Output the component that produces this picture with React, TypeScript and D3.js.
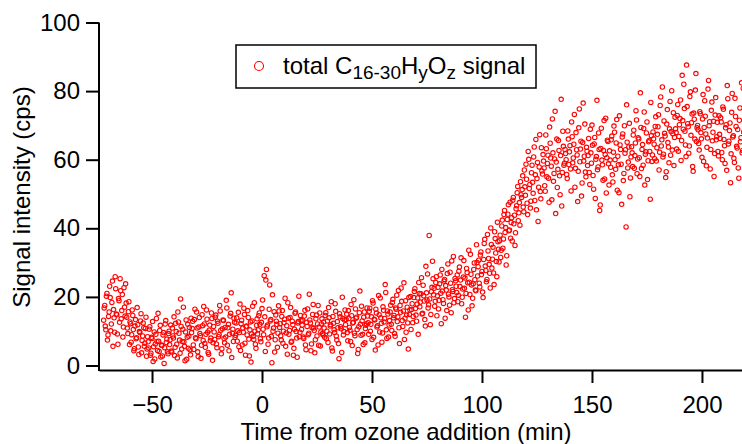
import {useEffect, useRef} from 'react';
import * as d3 from 'd3';

// minutes from ozone addition, first set of scans
const timeMinA = [
	-72,-71.5,-71,-70.5,-70,-69.5,-69,-68.5,-68,-67.5,-67,-66.5,-66,-65.5,-65,-64.5,-64,-63.5,-63,-62.5,
	-62,-61.5,-61,-60.5,-60,-59.5,-59,-58.5,-58,-57.5,-57,-56.5,-56,-55.5,-55,-54.5,-54,-53.5,-53,-52.5,
	-52,-51.5,-51,-50.5,-50,-49.5,-49,-48.5,-48,-47.5,-47,-46.5,-46,-45.5,-45,-44.5,-44,-43.5,-43,-42.5,
	-42,-41.5,-41,-40.5,-40,-39.5,-39,-38.5,-38,-37.5,-37,-36.5,-36,-35.5,-35,-34.5,-34,-33.5,-33,-32.5,
	-32,-31.5,-31,-30.5,-30,-29.5,-29,-28.5,-28,-27.5,-27,-26.5,-26,-25.5,-25,-24.5,-24,-23.5,-23,-22.5,
	-22,-21.5,-21,-20.5,-20,-19.5,-19,-18.5,-18,-17.5,-17,-16.5,-16,-15.5,-15,-14.5,-14,-13.5,-13,-12.5,
	-12,-11.5,-11,-10.5,-10,-9.5,-9,-8.5,-8,-7.5,-7,-6.5,-6,-5.5,-5,-4.5,-4,-3.5,-3,-2.5,
	-2,-1.5,-1,-0.5,0,0.5,1,1.5,2,2.5,3,3.5,4,4.5,5,5.5,6,6.5,7,7.5,
	8,8.5,9,9.5,10,10.5,11,11.5,12,12.5,13,13.5,14,14.5,15,15.5,16,16.5,17,17.5,
	18,18.5,19,19.5,20,20.5,21,21.5,22,22.5,23,23.5,24,24.5,25,25.5,26,26.5,27,27.5,
	28,28.5,29,29.5,30,30.5,31,31.5,32,32.5,33,33.5,34,34.5,35,35.5,36,36.5,37,37.5,
	38,38.5,39,39.5,40,40.5,41,41.5,42,42.5,43,43.5,44,44.5,45,45.5,46,46.5,47,47.5,
	48,48.5,49,49.5,50,50.5,51,51.5,52,52.5,53,53.5,54,54.5,55,55.5,56,56.5,57,57.5,
	58,58.5,59,59.5,60,60.5,61,61.5,62,62.5,63,63.5,64,64.5,65,65.5,66,66.5,67,67.5,
	68,68.5,69,69.5,70,70.5,71,71.5,72,72.5,73,73.5,74,74.5,75,75.5,76,76.5,77,77.5,
	78,78.5,79,79.5,80,80.5,81,81.5,82,82.5,83,83.5,84,84.5,85,85.5,86,86.5,87,87.5,
	88,88.5,89,89.5,90,90.5,91,91.5,92,92.5,93,93.5,94,94.5,95,95.5,96,96.5,97,97.5,
	98,98.5,99,99.5,100,100.5,101,101.5,102,102.5,103,103.5,104,104.5,105,105.5,106,106.5,107,107.5,
	108,108.5,109,109.5,110,110.5,111,111.5,112,112.5,113,113.5,114,114.5,115,115.5,116,116.5,117,117.5,
	118,118.5,119,119.5,120,120.5,121,121.5,122,122.5,123,123.5,124,124.5,125,125.5,126,126.5,127,127.5,
	128,128.5,129,129.5,130,130.5,131,131.5,132,132.5,133,133.5,134,134.5,135,135.5,136,136.5,137,137.5,
	138,138.5,139,139.5,140,140.5,141,141.5,142,142.5,143,143.5,144,144.5,145,145.5,146,146.5,147,147.5,
	148,148.5,149,149.5,150,150.5,151,151.5,152,152.5,153,153.5,154,154.5,155,155.5,156,156.5,157,157.5,
	158,158.5,159,159.5,160,160.5,161,161.5,162,162.5,163,163.5,164,164.5,165,165.5,166,166.5,167,167.5,
	168,168.5,169,169.5,170,170.5,171,171.5,172,172.5,173,173.5,174,174.5,175,175.5,176,176.5,177,177.5,
	178,178.5,179,179.5,180,180.5,181,181.5,182,182.5,183,183.5,184,184.5,185,185.5,186,186.5,187,187.5,
	188,188.5,189,189.5,190,190.5,191,191.5,192,192.5,193,193.5,194,194.5,195,195.5,196,196.5,197,197.5,
	198,198.5,199,199.5,200,200.5,201,201.5,202,202.5,203,203.5,204,204.5,205,205.5,206,206.5,207,207.5,
	208,208.5,209,209.5,210,210.5,211,211.5,212,212.5,213,213.5,214,214.5,215,215.5,216,216.5,217,217.5,218,218.5,219,219.5,220
];

// total C16-30HyOz signal (cps), first set of scans
const signalCpsA = [
	13.2,17.5,10.4,21.0,8.9,15.6,19.8,12.1,24.6,16.3,9.7,22.4,14.8,6.2,18.9,25.3,13.6,20.7,11.2,17.0,
	23.8,14.1,9.3,18.6,12.7,6.8,16.2,10.5,4.9,13.4,8.1,11.9,3.2,9.6,15.1,7.3,12.4,5.6,10.8,2.7,
	8.4,5.1,11.3,3.6,7.9,1.2,9.8,6.3,13.7,4.4,7.1,10.2,2.5,5.8,8.9,0.6,12.1,6.7,4.0,9.3,
	6.1,11.8,3.9,8.6,14.2,5.3,9.9,2.2,12.7,7.4,19.4,4.8,10.6,6.9,1.4,13.3,8.2,5.0,11.1,3.1,
	9.6,12.9,4.7,16.4,7.8,10.9,2.6,14.0,8.7,5.9,11.6,17.2,6.4,9.1,13.5,3.8,10.3,7.2,15.3,1.5,
	11.4,7.6,14.7,5.2,12.3,9.0,15.9,3.4,10.7,13.1,6.6,8.3,16.8,11.0,4.3,14.4,21.2,9.4,7.0,12.6,
	8.8,13.9,10.1,5.5,17.9,12.2,6.0,9.7,14.9,3.0,11.5,16.0,7.7,10.4,1.0,13.0,8.5,18.3,6.2,11.7,
	9.2,14.5,12.0,6.9,16.6,10.6,26.2,4.1,28.0,11.8,8.0,23.5,13.4,0.8,10.0,15.7,7.5,12.9,5.3,17.4,
	11.1,8.7,14.3,6.5,12.5,19.6,9.5,3.3,13.8,10.2,16.9,7.1,11.9,5.0,15.2,9.9,2.4,12.8,8.4,14.6,
	10.5,13.2,7.9,16.1,4.6,11.4,9.0,20.8,12.4,6.3,14.9,10.9,3.7,13.6,8.6,17.5,11.2,5.7,12.1,9.3,
	12.7,8.2,15.4,10.0,6.7,13.9,11.5,18.6,4.2,12.3,9.6,15.8,7.4,11.0,2.0,14.2,10.7,19.9,8.9,13.3,
	11.9,15.0,7.2,13.7,10.3,17.8,5.8,12.6,9.4,16.5,14.1,3.5,11.3,21.7,8.8,13.0,6.1,15.6,10.8,12.2,
	14.4,9.1,16.7,12.0,7.6,18.2,13.5,4.5,15.3,11.6,20.4,9.8,13.9,6.8,17.1,12.7,23.6,10.4,15.9,8.3,
	13.1,17.6,10.2,19.3,14.6,8.5,16.4,12.8,21.9,6.4,15.5,18.7,11.4,24.1,13.8,9.7,17.0,4.8,14.9,20.1,
	16.3,12.5,19.8,22.4,14.7,17.9,9.1,21.0,18.5,25.6,15.2,20.3,13.4,28.9,19.1,16.8,37.9,11.9,21.5,30.4,
	20.6,17.3,24.2,14.5,22.8,19.0,26.4,12.2,21.7,18.1,25.1,23.3,16.0,29.6,20.0,27.2,15.4,22.1,31.8,19.5,
	24.7,21.3,18.6,27.5,23.0,31.4,19.9,25.8,22.5,14.1,28.3,24.1,33.6,20.7,26.6,17.4,23.8,29.9,22.0,35.2,
	26.1,30.7,22.9,33.1,27.4,19.8,35.6,29.0,24.4,38.2,31.2,26.9,40.1,28.4,34.5,23.6,37.0,30.3,41.8,33.9,
	36.4,31.5,40.7,34.2,44.0,38.8,29.3,42.6,46.9,39.5,37.1,43.1,48.2,41.3,35.0,45.7,50.4,42.2,47.5,53.6,
	49.0,55.3,44.8,52.1,58.7,47.3,62.4,51.6,45.9,56.2,53.4,60.8,48.1,65.9,54.5,42.0,57.9,50.7,63.5,55.8,
	59.6,52.4,67.2,55.0,61.3,47.6,64.8,58.1,71.9,53.7,60.2,44.3,66.0,57.2,62.7,49.8,77.6,56.3,63.9,59.0,
	61.8,55.7,68.4,58.6,64.1,50.9,66.7,60.5,73.2,57.5,62.9,47.8,69.3,59.4,65.4,53.2,76.5,61.0,56.4,63.6,
	58.3,66.2,52.8,62.0,70.1,55.4,64.6,48.7,60.9,57.1,67.8,45.2,63.3,59.9,54.0,71.4,61.5,50.3,65.7,58.8,
	62.6,57.8,66.9,53.5,69.8,60.0,64.9,51.1,58.5,72.8,63.0,47.0,67.5,56.0,61.9,40.4,65.1,59.3,70.6,54.7,
	63.8,58.0,68.6,61.2,74.3,55.9,66.4,60.6,79.5,57.4,64.4,69.1,52.6,62.3,71.0,59.7,65.6,48.5,67.0,61.4,
	66.1,60.3,72.5,63.5,69.6,57.0,75.8,64.0,81.2,61.6,67.7,54.8,70.4,65.0,59.1,77.0,68.2,62.8,73.7,66.5,
	69.0,63.1,76.1,66.8,72.0,59.8,84.6,68.9,74.9,64.3,87.6,70.5,61.9,78.4,67.1,73.3,56.6,71.8,80.3,65.3,
	70.0,64.7,74.0,67.9,60.7,79.0,69.4,72.7,58.2,66.3,83.1,71.1,63.0,76.8,68.0,55.1,73.0,65.8,70.9,61.1,
	67.4,72.2,62.1,75.4,65.9,58.9,70.2,81.6,64.6,68.5,53.3,73.8,66.6,60.4,77.9,69.7,63.4,57.6,71.5,65.2,82.4,62.7,68.1,56.2,64.0
];

// minutes from ozone addition, second set of scans (in between)
const timeMinB = [
	-71.75,-71.25,-70.75,-70.25,-69.75,-69.25,-68.75,-68.25,-67.75,-67.25,-66.75,-66.25,-65.75,-65.25,-64.75,-64.25,-63.75,-63.25,-62.75,-62.25,
	-61.75,-61.25,-60.75,-60.25,-59.75,-59.25,-58.75,-58.25,-57.75,-57.25,-56.75,-56.25,-55.75,-55.25,-54.75,-54.25,-53.75,-53.25,-52.75,-52.25,
	-51.75,-51.25,-50.75,-50.25,-49.75,-49.25,-48.75,-48.25,-47.75,-47.25,-46.75,-46.25,-45.75,-45.25,-44.75,-44.25,-43.75,-43.25,-42.75,-42.25,
	-41.75,-41.25,-40.75,-40.25,-39.75,-39.25,-38.75,-38.25,-37.75,-37.25,-36.75,-36.25,-35.75,-35.25,-34.75,-34.25,-33.75,-33.25,-32.75,-32.25,
	-31.75,-31.25,-30.75,-30.25,-29.75,-29.25,-28.75,-28.25,-27.75,-27.25,-26.75,-26.25,-25.75,-25.25,-24.75,-24.25,-23.75,-23.25,-22.75,-22.25,
	-21.75,-21.25,-20.75,-20.25,-19.75,-19.25,-18.75,-18.25,-17.75,-17.25,-16.75,-16.25,-15.75,-15.25,-14.75,-14.25,-13.75,-13.25,-12.75,-12.25,
	-11.75,-11.25,-10.75,-10.25,-9.75,-9.25,-8.75,-8.25,-7.75,-7.25,-6.75,-6.25,-5.75,-5.25,-4.75,-4.25,-3.75,-3.25,-2.75,-2.25,
	-1.75,-1.25,-0.75,-0.25,0.25,0.75,1.25,1.75,2.25,2.75,3.25,3.75,4.25,4.75,5.25,5.75,6.25,6.75,7.25,7.75,
	8.25,8.75,9.25,9.75,10.25,10.75,11.25,11.75,12.25,12.75,13.25,13.75,14.25,14.75,15.25,15.75,16.25,16.75,17.25,17.75,
	18.25,18.75,19.25,19.75,20.25,20.75,21.25,21.75,22.25,22.75,23.25,23.75,24.25,24.75,25.25,25.75,26.25,26.75,27.25,27.75,
	28.25,28.75,29.25,29.75,30.25,30.75,31.25,31.75,32.25,32.75,33.25,33.75,34.25,34.75,35.25,35.75,36.25,36.75,37.25,37.75,
	38.25,38.75,39.25,39.75,40.25,40.75,41.25,41.75,42.25,42.75,43.25,43.75,44.25,44.75,45.25,45.75,46.25,46.75,47.25,47.75,
	48.25,48.75,49.25,49.75,50.25,50.75,51.25,51.75,52.25,52.75,53.25,53.75,54.25,54.75,55.25,55.75,56.25,56.75,57.25,57.75,
	58.25,58.75,59.25,59.75,60.25,60.75,61.25,61.75,62.25,62.75,63.25,63.75,64.25,64.75,65.25,65.75,66.25,66.75,67.25,67.75,
	68.25,68.75,69.25,69.75,70.25,70.75,71.25,71.75,72.25,72.75,73.25,73.75,74.25,74.75,75.25,75.75,76.25,76.75,77.25,77.75,
	78.25,78.75,79.25,79.75,80.25,80.75,81.25,81.75,82.25,82.75,83.25,83.75,84.25,84.75,85.25,85.75,86.25,86.75,87.25,87.75,
	88.25,88.75,89.25,89.75,90.25,90.75,91.25,91.75,92.25,92.75,93.25,93.75,94.25,94.75,95.25,95.75,96.25,96.75,97.25,97.75,
	98.25,98.75,99.25,99.75,100.25,100.75,101.25,101.75,102.25,102.75,103.25,103.75,104.25,104.75,105.25,105.75,106.25,106.75,107.25,107.75,
	108.25,108.75,109.25,109.75,110.25,110.75,111.25,111.75,112.25,112.75,113.25,113.75,114.25,114.75,115.25,115.75,116.25,116.75,117.25,117.75,
	118.25,118.75,119.25,119.75,120.25,120.75,121.25,121.75,122.25,122.75,123.25,123.75,124.25,124.75,125.25,125.75,126.25,126.75,127.25,127.75,
	128.25,128.75,129.25,129.75,130.25,130.75,131.25,131.75,132.25,132.75,133.25,133.75,134.25,134.75,135.25,135.75,136.25,136.75,137.25,137.75,
	138.25,138.75,139.25,139.75,140.25,140.75,141.25,141.75,142.25,142.75,143.25,143.75,144.25,144.75,145.25,145.75,146.25,146.75,147.25,147.75,
	148.25,148.75,149.25,149.75,150.25,150.75,151.25,151.75,152.25,152.75,153.25,153.75,154.25,154.75,155.25,155.75,156.25,156.75,157.25,157.75,
	158.25,158.75,159.25,159.75,160.25,160.75,161.25,161.75,162.25,162.75,163.25,163.75,164.25,164.75,165.25,165.75,166.25,166.75,167.25,167.75,
	168.25,168.75,169.25,169.75,170.25,170.75,171.25,171.75,172.25,172.75,173.25,173.75,174.25,174.75,175.25,175.75,176.25,176.75,177.25,177.75,
	178.25,178.75,179.25,179.75,180.25,180.75,181.25,181.75,182.25,182.75,183.25,183.75,184.25,184.75,185.25,185.75,186.25,186.75,187.25,187.75,
	188.25,188.75,189.25,189.75,190.25,190.75,191.25,191.75,192.25,192.75,193.25,193.75,194.25,194.75,195.25,195.75,196.25,196.75,197.25,197.75,
	198.25,198.75,199.25,199.75,200.25,200.75,201.25,201.75,202.25,202.75,203.25,203.75,204.25,204.75,205.25,205.75,206.25,206.75,207.25,207.75,
	208.25,208.75,209.25,209.75,210.25,210.75,211.25,211.75,212.25,212.75,213.25,213.75,214.25,214.75,215.25,215.75,216.25,216.75,217.25,217.75,218.25,218.75,219.25,219.75
];

// total C16-30HyOz signal (cps), second set of scans
const signalCpsB = [
	16.8,11.5,20.2,7.4,14.3,23.1,10.1,18.4,5.6,13.9,25.9,15.0,9.2,19.5,12.6,21.8,16.0,8.3,22.7,14.4,
	18.2,10.9,15.7,6.1,12.2,9.0,14.6,4.3,11.5,7.8,16.9,5.4,9.9,13.0,3.7,8.6,11.0,6.5,14.1,4.8,
	6.9,10.6,3.0,8.2,12.8,5.5,1.9,9.1,7.0,15.2,4.1,11.7,6.0,2.8,9.6,5.2,13.1,7.7,3.4,10.0,
	7.5,4.2,10.9,8.0,2.9,12.3,6.2,15.6,9.4,3.6,11.4,7.0,17.0,5.6,9.8,1.8,12.0,8.5,4.6,13.8,
	10.8,6.0,13.4,8.1,15.6,4.0,11.2,9.3,2.1,14.8,7.3,12.1,5.3,16.2,9.7,3.3,11.8,8.0,13.7,6.6,
	9.8,14.1,6.3,12.9,8.4,17.5,10.3,4.9,13.3,7.9,11.1,19.0,5.9,12.0,9.1,15.2,2.3,10.6,13.8,8.2,
	12.4,7.1,15.5,9.6,4.4,13.2,10.9,16.7,6.5,11.3,8.9,14.0,2.8,12.7,9.2,17.3,7.6,10.0,5.0,13.6,
	10.4,15.3,7.8,12.6,19.1,9.0,14.2,24.9,11.3,6.2,16.4,13.0,8.5,20.6,10.9,3.9,14.7,12.0,9.4,15.9,
	12.2,7.4,16.0,10.0,13.5,5.6,11.6,18.3,9.1,14.0,6.8,12.9,3.0,10.6,15.6,8.0,12.4,20.2,9.7,13.1,
	11.8,8.3,14.4,6.0,12.6,16.5,9.4,13.3,4.3,11.0,17.8,10.2,7.5,14.7,12.1,5.9,15.3,9.8,13.6,8.9,
	10.9,14.6,7.8,13.0,16.9,9.2,11.9,5.1,14.3,10.4,18.0,8.6,12.8,6.4,15.1,11.3,3.8,13.7,9.9,16.2,
	13.4,9.6,16.0,11.1,7.0,14.5,12.4,19.2,8.7,13.8,10.5,4.7,15.4,12.0,17.3,9.1,14.1,6.6,11.7,16.8,
	12.5,15.8,10.0,14.2,18.9,8.2,13.3,16.4,11.2,6.0,14.8,19.7,12.3,9.5,16.1,13.7,21.3,7.9,15.0,11.8,
	15.6,12.0,18.4,13.9,9.3,16.8,20.5,14.2,11.0,17.5,22.6,13.1,15.9,7.6,18.9,14.7,12.4,19.8,16.2,10.5,
	18.0,14.3,21.6,16.6,12.9,19.7,24.2,17.1,20.9,15.0,23.4,18.8,11.5,21.2,26.7,17.7,19.4,14.9,22.8,25.3,
	22.5,18.7,25.9,20.3,16.5,23.8,21.1,28.0,19.2,24.6,13.8,22.0,26.8,20.8,17.6,24.0,30.5,21.6,18.3,25.4,
	23.1,26.4,20.5,28.7,24.9,18.0,22.3,30.6,25.5,21.0,27.1,16.2,24.3,32.4,23.5,19.6,28.0,25.0,21.8,30.0,
	28.8,24.0,32.2,26.5,21.4,30.9,36.8,27.7,25.1,33.4,29.5,22.6,35.3,31.0,27.0,39.0,32.8,25.9,36.1,30.2,
	38.0,33.6,42.4,36.9,45.2,40.2,32.0,44.1,39.3,47.6,41.7,36.3,49.0,43.8,38.7,46.6,52.2,44.5,40.9,49.8,
	51.3,46.2,57.0,49.6,54.3,44.0,60.1,52.8,47.9,58.4,50.2,63.7,55.6,45.4,59.2,52.0,67.3,48.6,56.7,61.5,
	57.6,50.8,63.2,58.9,54.6,69.5,60.5,48.3,62.0,56.0,74.1,59.3,51.9,65.6,55.3,61.2,46.5,68.3,58.4,63.0,
	60.0,54.5,66.0,62.3,57.3,71.0,59.1,64.5,52.0,67.9,61.4,56.6,74.8,63.1,49.4,65.0,59.6,70.4,55.0,62.5,
	61.2,56.3,68.9,59.0,64.2,51.4,66.5,60.1,77.3,57.9,63.0,46.8,69.2,58.5,62.7,54.4,72.1,60.6,65.3,52.6,
	59.9,65.8,55.6,62.2,68.0,57.2,71.7,61.0,50.4,64.3,58.7,66.6,53.9,69.9,62.9,76.0,57.6,63.7,49.2,60.8,
	62.0,67.2,57.5,64.9,71.6,60.2,66.0,55.1,69.4,63.0,58.4,73.9,61.6,67.8,54.2,65.2,62.4,76.7,59.5,68.1,
	64.5,69.7,59.6,67.4,73.1,62.2,78.3,65.8,60.8,71.3,66.9,56.5,74.6,63.7,69.0,61.3,80.1,67.6,58.3,72.4,
	67.9,72.9,62.5,70.2,77.4,65.6,71.4,82.0,68.3,60.9,75.5,69.6,64.0,79.8,70.8,58.0,73.6,66.0,85.1,69.3,
	68.7,62.8,73.4,66.1,71.9,59.5,77.2,67.5,63.6,80.6,69.9,57.3,74.4,65.5,71.2,61.8,78.1,66.7,62.4,72.8,
	66.2,71.0,60.0,74.7,64.1,69.3,56.9,77.8,65.4,70.7,61.7,79.3,67.0,59.2,72.6,63.9,68.8,54.6,75.1,66.4,62.0,80.8,67.8,58.6
];

const xTicks = [-50, 0, 50, 100, 150, 200];
const yTicks = [0, 20, 40, 60, 80, 100];

const FONT = '"Liberation Sans", Arial, sans-serif';

function App(){
	const svgRef = useRef<SVGSVGElement>(null);

	useEffect(()=>{
		const svg = d3.select(svgRef.current)
			, x = d3.scaleLinear().domain([-74.1, 218.2]).range([99, 742])
			, y = d3.scaleLinear().domain([0, 100]).range([365.5, 22.5])
			, axisY = 370
			, points = timeMinA.map((t, i)=>({t, v: signalCpsA[i]}))
				.concat(timeMinB.map((t, i)=>({t, v: signalCpsB[i]})))
			;

		svg.selectAll('*').remove();

		svg.append('clipPath').attr('id', 'plot-clip')
			.append('rect').attr('x', 99).attr('y', 0).attr('width', 643).attr('height', 372);

		// data
		svg.append('g').attr('clip-path', 'url(#plot-clip)')
			.selectAll('circle').data(points).enter().append('circle')
			.attr('cx', (d)=>x(d.t))
			.attr('cy', (d)=>y(d.v))
			.attr('r', 2.2)
			.attr('fill', 'none')
			.attr('stroke', '#ff0000')
			.attr('stroke-width', 1.1);

		// x axis
		const gx = svg.append('g').attr('transform', `translate(0,${axisY})`)
			.call(d3.axisBottom(x).tickValues(xTicks).tickSize(13).tickSizeOuter(0).tickPadding(13).tickFormat(d3.format('d')));
		gx.select('.domain').attr('stroke-width', 2).attr('stroke', '#000');
		gx.selectAll('.tick line').attr('stroke-width', 2).attr('stroke', '#000');
		gx.selectAll('.tick text').attr('font-size', 24).attr('font-family', FONT).attr('fill', '#000');

		// y axis
		const gy = svg.append('g').attr('transform', 'translate(99,0)')
			.call(d3.axisLeft(y).tickValues(yTicks).tickSize(13).tickSizeOuter(0).tickPadding(6));
		gy.select('.domain').remove();
		gy.append('line').attr('x1', 0).attr('x2', 0).attr('y1', y(100)).attr('y2', axisY + 1)
			.attr('stroke', '#000').attr('stroke-width', 2);
		gy.selectAll('.tick line').attr('stroke-width', 2).attr('stroke', '#000');
		gy.selectAll('.tick text').attr('font-size', 24).attr('font-family', FONT).attr('fill', '#000');

		// axis titles
		svg.append('text').attr('x', 406).attr('y', 440).attr('text-anchor', 'middle')
			.attr('font-size', 24).attr('font-family', FONT).text('Time from ozone addition (min)');
		svg.append('text').attr('transform', 'translate(30,197) rotate(-90)').attr('text-anchor', 'middle')
			.attr('font-size', 24).attr('font-family', FONT).text('Signal intensity (cps)');

		// legend
		const lg = svg.append('g');
		lg.append('rect').attr('x', 236).attr('y', 45).attr('width', 300).attr('height', 43)
			.attr('fill', '#fff').attr('stroke', '#000').attr('stroke-width', 1.5);
		lg.append('circle').attr('cx', 259).attr('cy', 66).attr('r', 4.5)
			.attr('fill', 'none').attr('stroke', '#ff0000').attr('stroke-width', 1.1);
		const lt = lg.append('text').attr('x', 283).attr('y', 74).attr('font-size', 24).attr('font-family', FONT);
		lt.append('tspan').text('total C');
		lt.append('tspan').attr('font-size', 19).attr('dy', 5).text('16-30');
		lt.append('tspan').attr('dy', -5).text('H');
		lt.append('tspan').attr('font-size', 19).attr('dy', 5).text('y');
		lt.append('tspan').attr('dy', -5).text('O');
		lt.append('tspan').attr('font-size', 19).attr('dy', 5).text('z');
		lt.append('tspan').attr('dy', -5).text(' signal');
	}, []);

	return (<svg ref={svgRef}
	             width={742}
	             height={444}
	             style={{position: 'absolute', left: 0, top: 0, background: '#fff'}}></svg>);
}

export default App;
